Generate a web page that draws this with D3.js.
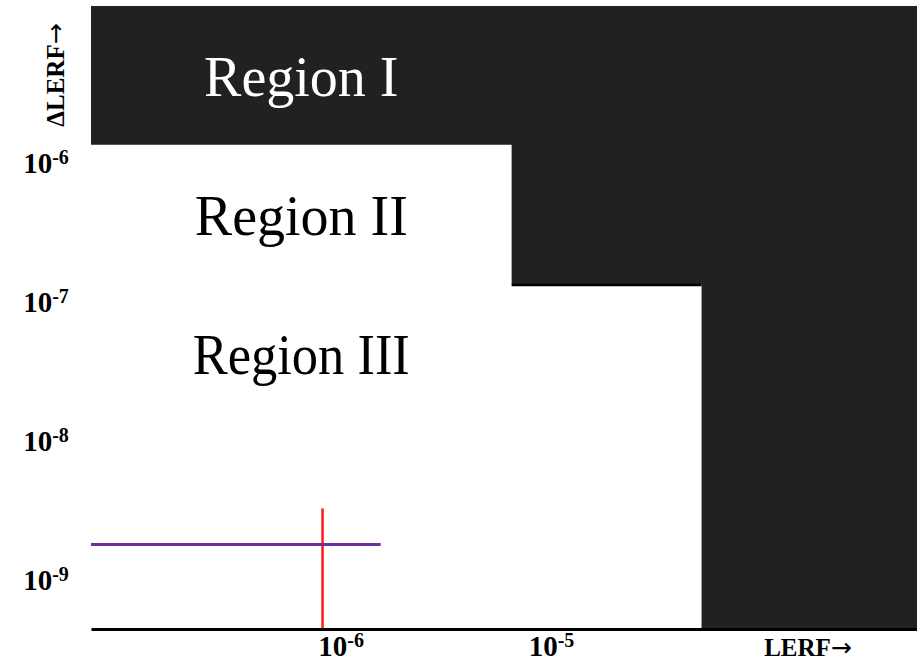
<!DOCTYPE html>
<html>
<head>
<meta charset="utf-8">
<script src="https://cdn.jsdelivr.net/npm/d3@7"></script>
<style>
  html, body { margin: 0; padding: 0; background: #ffffff; }
  svg { display: block; }
  text { font-family: "Liberation Serif", "Times New Roman", serif; }
</style>
</head>
<body>
<svg id="chart" width="917" height="661"></svg>
<script>
// Axis extents (log scales)
const lerfDomain = [6.5e-8, 5.5e-4];
const dLerfDomain = [4.4e-10, 1.35e-5];

// Tick values shown on each axis
const xTicks = [1e-6, 1e-5];
const yTicks = [1e-6, 1e-7, 1e-8, 1e-9];

// Region boundaries: LERF breakpoints and the ΔLERF lower limit of the
// shaded (Region I) area over each LERF interval
const boundaryLerf = [6.5e-8, 6.5e-6, 5.2e-5, 5.5e-4];
const boundaryDLerf = [1.35e-6, 1.35e-7, 4.4e-10];

// Region labels and the ΔLERF band each sits in
const regionNames = ["Region I", "Region II", "Region III"];
const regionBands = [[1.35e-5, 1.35e-6], [1.35e-6, 1.35e-7], [1.35e-7, 1.35e-8]];

// Plant point: LERF value (vertical line) and ΔLERF value (horizontal line)
const pointLerf = 8.2e-7;
const pointLerfSpan = [4.4e-10, 3.25e-9];
const pointDLerf = 1.79e-9;
const pointDLerfSpan = [6.5e-8, 1.55e-6];

const svg = d3.select("#chart");

const x = d3.scaleLog().domain(lerfDomain).range([91, 917]);
const y = d3.scaleLog().domain(dLerfDomain).range([629, 6]);

const dark = "#212121";

// Shaded step region (Region I) built from the boundary arrays
const steps = boundaryDLerf.map((v, i) => ({ x0: boundaryLerf[i], x1: boundaryLerf[i + 1], v }));
const stepPts = [];
steps.forEach(s => { stepPts.push({ x: s.x0, v: s.v }); stepPts.push({ x: s.x1, v: s.v }); });
const area = d3.area()
  .x(d => x(d.x))
  .y0(() => y(dLerfDomain[1]))
  .y1(d => y(d.v));
svg.append("path")
  .datum(stepPts)
  .attr("d", area)
  .attr("fill", dark);

// Edge along the bottom of the middle step
svg.append("line")
  .attr("x1", x(boundaryLerf[1]))
  .attr("x2", x(boundaryLerf[2]))
  .attr("y1", y(boundaryDLerf[1]) + 1)
  .attr("y2", y(boundaryDLerf[1]) + 1)
  .attr("stroke", "#000")
  .attr("stroke-width", 3);

// Region labels
svg.selectAll("text.region")
  .data(regionNames)
  .join("text")
  .attr("class", "region")
  .attr("x", (x(boundaryLerf[0]) + x(boundaryLerf[1])) / 2)
  .attr("y", (d, i) => (y(regionBands[i][0]) + y(regionBands[i][1])) / 2)
  .attr("dy", "0.37em")
  .attr("text-anchor", "middle")
  .attr("font-size", 56)
  .attr("fill", (d, i) => i === 0 ? "#ffffff" : "#000000")
  .text(d => d)
  .each(function(d, i) {
    if (i === 2) d3.select(this).attr("textLength", 217).attr("lengthAdjust", "spacingAndGlyphs");
  });

// Vertical marker at the plant LERF
svg.append("line")
  .attr("x1", x(pointLerf)).attr("x2", x(pointLerf))
  .attr("y1", y(pointLerfSpan[0])).attr("y2", y(pointLerfSpan[1]))
  .attr("stroke", "#ff1a1a")
  .attr("stroke-width", 2.5);

// Horizontal marker at the plant ΔLERF
svg.append("line")
  .attr("x1", x(pointDLerfSpan[0])).attr("x2", x(pointDLerfSpan[1]))
  .attr("y1", y(pointDLerf)).attr("y2", y(pointDLerf))
  .attr("stroke", "#7030a0")
  .attr("stroke-width", 3);

// Power-of-ten label with a superscript exponent
function powerLabel(sel) {
  sel.each(function(d) {
    const t = d3.select(this);
    const e = Math.round(Math.log10(d));
    t.text("");
    t.append("tspan").text("10");
    t.append("tspan").attr("font-size", 20).attr("dy", -9).text(String(e).replace("−", "-"));
  });
}

// X axis
const xAxis = svg.append("g")
  .attr("transform", `translate(0,${y(dLerfDomain[0])})`)
  .call(d3.axisBottom(x).tickValues(xTicks).tickSize(0).tickFormat(d => d));
xAxis.select(".domain").attr("stroke", "#000").attr("stroke-width", 3);
xAxis.selectAll(".tick text")
  .attr("y", 27).attr("dy", 0)
  .attr("font-family", "Liberation Serif, serif")
  .attr("font-weight", "bold")
  .attr("font-size", 29)
  .attr("fill", "#000")
  .call(powerLabel);

// Y axis (labels only)
const yAxis = svg.append("g")
  .attr("transform", "translate(91,0)")
  .call(d3.axisLeft(y).tickValues(yTicks).tickSize(0).tickFormat(d => d));
yAxis.select(".domain").remove();
yAxis.selectAll(".tick text")
  .attr("x", -45).attr("dy", "0.34em")
  .attr("text-anchor", "middle")
  .attr("font-family", "Liberation Serif, serif")
  .attr("font-weight", "bold")
  .attr("font-size", 29)
  .attr("fill", "#000")
  .call(powerLabel);

// Axis titles
const xTitle = svg.append("text")
  .attr("x", 808).attr("y", 656)
  .attr("text-anchor", "middle")
  .attr("font-weight", "bold")
  .attr("font-size", 25);
xTitle.append("tspan").text("LERF");
xTitle.append("tspan").attr("font-family", "DejaVu Sans").attr("font-weight", "normal").text("→");

const yTitle = svg.append("text")
  .attr("transform", "translate(64,75) rotate(-90)")
  .attr("text-anchor", "middle")
  .attr("font-weight", "bold")
  .attr("font-size", 25);
yTitle.append("tspan").text("ΔLERF");
yTitle.append("tspan").attr("font-family", "DejaVu Sans").attr("font-weight", "normal").text("→");
</script>
</body>
</html>
